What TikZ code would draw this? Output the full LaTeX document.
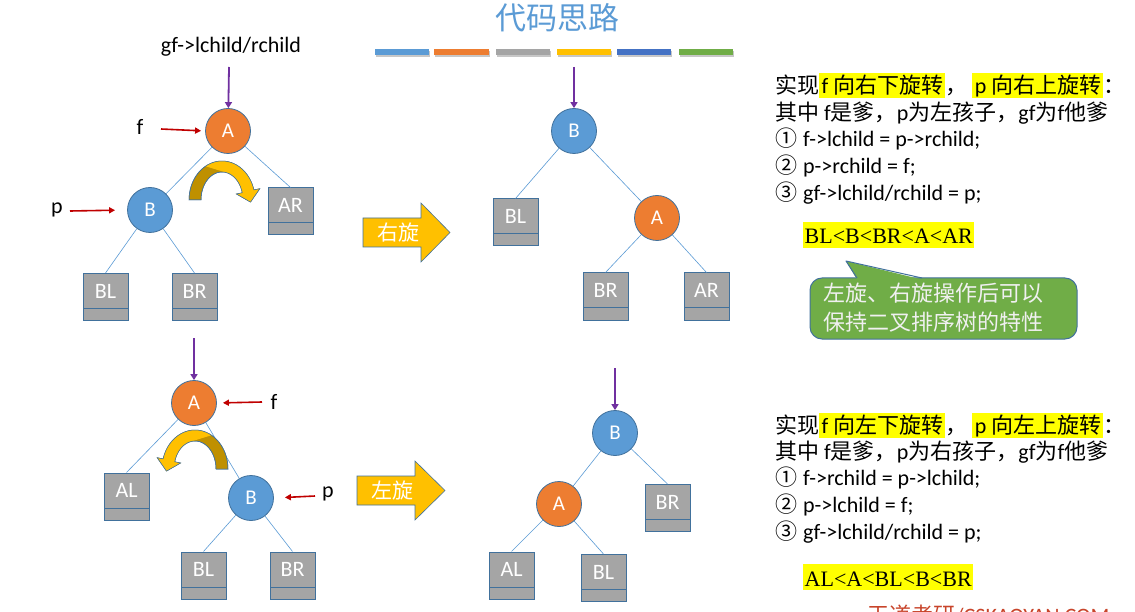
\documentclass[tikz,border=0pt]{standalone}
\usepackage{fontspec}
\setmainfont{Carlito}
\newfontfamily\cjk{Noto Sans CJK SC}
\newfontfamily\tnr{Liberation Serif}
\newcommand{\zh}[1]{{\cjk #1}}
\usetikzlibrary{arrows.meta}
\definecolor{nblue}{HTML}{5B9BD5}
\definecolor{norange}{HTML}{ED7D31}
\definecolor{ngray}{HTML}{A5A5A5}
\definecolor{nyellow}{HTML}{FFC000}
\definecolor{ndblue}{HTML}{4472C4}
\definecolor{ngreen}{HTML}{70AD47}
\definecolor{nborder}{HTML}{41719C}
\definecolor{npurple}{HTML}{7030A0}
\definecolor{nred}{HTML}{C00000}
\definecolor{ngold}{HTML}{BF9000}
\definecolor{hl}{HTML}{FFFF00}
\definecolor{wmred}{HTML}{C8442A}
\newcommand{\hlt}[1]{{\setlength{\fboxsep}{0pt}\colorbox{hl}{\rule[-4.6pt]{0pt}{25pt}\hspace{2.5pt}#1\hspace{2pt}}}}
\newcommand{\hltb}[1]{{\setlength{\fboxsep}{0pt}\colorbox{hl}{\rule[-4pt]{0pt}{26pt}\hspace{1.5pt}#1\hspace{1pt}}}}
\tikzset{
 tn/.style={circle, minimum size=45pt, inner sep=0pt, draw=nborder, line width=0.8pt, text=white, font=\fontsize{21}{24}\selectfont},
 tA/.style={tn, fill=norange},
 tB/.style={tn, fill=nblue},
 leaf/.style={rectangle, minimum width=45pt, minimum height=47pt, inner sep=0pt, fill=ngray, draw=nborder, line width=1pt, text=white, font=\fontsize{22}{24}\selectfont, text depth=12pt,
   path picture={\draw[nborder, line width=1pt] ([yshift=12pt]path picture bounding box.south west) -- ([yshift=12pt]path picture bounding box.south east);}},
 edge/.style={nblue, line width=0.6pt},
 gfarrow/.style={npurple, line width=1.8pt, -{Triangle[length=6pt,width=7pt]}},
 ptr/.style={nred, line width=1.6pt, -{Triangle[length=6pt,width=6pt]}},
 lbl/.style={font=\fontsize{22}{24}\selectfont, inner sep=0pt},
 txt/.style={anchor=base west, inner sep=0pt, font=\fontsize{22}{26}\selectfont},
 ord/.style={anchor=base west, inner sep=0pt, font=\tnr\fontsize{22}{24}\selectfont},
 blockarrow/.style={fill=nyellow, draw=nborder, line width=0.6pt},
 blocktext/.style={font=\cjk\fontsize{21}{24}\selectfont, text=white, inner sep=0pt},
}
\begin{document}
\begin{tikzpicture}[x=1pt, y=-1pt]
\fill[white] (0,0) rectangle (1135,612);
\useasboundingbox (0,0) rectangle (1135,612);

% title and colour bars
\node[font=\cjk\fontsize{31}{34}\selectfont, text=nblue, inner sep=0pt] (title) at (557,18) {代码思路};
\foreach \a/\b/\c in {375/429/nblue, 434/489/norange, 496/550/ngray, 557/611/nyellow, 617/671/ndblue, 679/733/ngreen}{
  \fill[black!22] (\a+1,51) rectangle (\b+1,57);
  \fill[\c] (\a,49) rectangle (\b,55);
}

% ---------- top-left tree ----------
\node[lbl] (gf1) at (231,47) {gf->lchild/rchild};
\coordinate (g1) at (229,67);
\node[tA] (A1) at (228,131) {A};
\node[tB] (B1) at (150,210) {B};
\node[leaf] (AR1) at (290.5,211.5) {AR};
\node[leaf] (BL1) at (105.5,297) {BL};
\node[leaf] (BR1) at (194.5,297) {BR};
\draw[edge] (A1) -- (B1);
\draw[edge] (A1) -- (AR1.north);
\draw[edge] (B1) -- (BL1.north);
\draw[edge] (B1) -- (BR1.north);
\draw[gfarrow] (g1) -- (A1);
\node[lbl] (f1) at (140,127) {f};
\coordinate (f1s) at (161,129);
\draw[ptr, shorten >=4pt] (f1s) -- (A1.west);
\node[lbl] (p1) at (57,210) {p};
\coordinate (p1s) at (70,211);
\draw[ptr, shorten >=12pt] (p1s) -- (B1.west);
\begin{scope}[shift={(222,200)}]
 \filldraw[fill=ngold, draw=nborder, line width=0.5pt] plot[domain=180:345, samples=40] ({33*cos(\x)},{39*sin(\x)}) -- (37.8,-11.3) -- (28.5,2.1) -- (14.4,-6.0) -- plot[domain=345:180, samples=40] ({21*cos(\x)},{28*sin(\x)}) -- cycle;
 \fill[nyellow] plot[domain=240:345, samples=30] ({33*cos(\x)},{39*sin(\x)}) -- (37.8,-11.3) -- (28.5,2.1) -- (14.4,-6.0) -- plot[domain=345:285, samples=20] ({21*cos(\x)},{28*sin(\x)}) -- cycle;
 \draw[nborder, line width=0.5pt] plot[domain=180:345, samples=40] ({33*cos(\x)},{39*sin(\x)}) -- (37.8,-11.3) -- (28.5,2.1) -- (14.4,-6.0) -- plot[domain=345:180, samples=40] ({21*cos(\x)},{28*sin(\x)}) -- cycle;
\end{scope}

% right-rotation block arrow
\filldraw[blockarrow] (363,218) -- (421,218) -- (421,203) -- (450,232.5) -- (421,262) -- (421,247) -- (363,247) -- cycle;
\node[blocktext] (r1) at (398,233) {右旋};

% ---------- top-middle tree ----------
\coordinate (g2) at (574,67);
\node[tB] (B2) at (574,131) {B};
\node[leaf] (BL2) at (515.5,222.5) {BL};
\node[tA] (A2) at (657,218) {A};
\node[leaf] (BR2) at (605.5,296.5) {BR};
\node[leaf] (AR2) at (706.5,296.5) {AR};
\draw[edge] (B2) -- (BL2.north);
\draw[edge] (B2) -- (A2);
\draw[edge] (A2) -- (BR2.north);
\draw[edge] (A2) -- (AR2.north);
\draw[gfarrow] (g2) -- (B2);

% ---------- bottom-left tree ----------
\coordinate (g3) at (194,338);
\node[tA] (A3) at (194,403) {A};
\node[leaf] (AL3) at (126.5,496.5) {AL};
\node[tB] (B3) at (251,498) {B};
\node[leaf] (BL3) at (203.5,575.5) {BL};
\node[leaf] (BR3) at (292.5,575.5) {BR};
\draw[edge] (A3) -- (AL3.north);
\draw[edge] (A3) -- (B3);
\draw[edge] (B3) -- (BL3.north);
\draw[edge] (B3) -- (BR3.north);
\draw[gfarrow] (g3) -- (A3);
\node[lbl] (f3) at (274,402) {f};
\coordinate (f3s) at (262,402);
\draw[ptr, shorten >=6pt] (f3s) -- (A3.east);
\node[lbl] (p3) at (328,494) {p};
\coordinate (p3s) at (315,496);
\draw[ptr, shorten >=11pt] (p3s) -- (B3.east);
\begin{scope}[shift={(195,469)}, xscale=-1]
 \filldraw[fill=ngold, draw=nborder, line width=0.5pt] plot[domain=180:345, samples=40] ({33*cos(\x)},{39*sin(\x)}) -- (37.8,-11.3) -- (28.5,2.1) -- (14.4,-6.0) -- plot[domain=345:180, samples=40] ({21*cos(\x)},{28*sin(\x)}) -- cycle;
 \fill[nyellow] plot[domain=240:345, samples=30] ({33*cos(\x)},{39*sin(\x)}) -- (37.8,-11.3) -- (28.5,2.1) -- (14.4,-6.0) -- plot[domain=345:285, samples=20] ({21*cos(\x)},{28*sin(\x)}) -- cycle;
 \draw[nborder, line width=0.5pt] plot[domain=180:345, samples=40] ({33*cos(\x)},{39*sin(\x)}) -- (37.8,-11.3) -- (28.5,2.1) -- (14.4,-6.0) -- plot[domain=345:180, samples=40] ({21*cos(\x)},{28*sin(\x)}) -- cycle;
\end{scope}

% left-rotation block arrow
\filldraw[blockarrow] (357,476) -- (415,476) -- (415,461) -- (445,490.5) -- (415,520) -- (415,505) -- (357,505) -- cycle;
\node[blocktext] (l1) at (392,491) {左旋};

% ---------- bottom-middle tree ----------
\coordinate (g4) at (615,368);
\node[tB] (B4) at (615,433) {B};
\node[tA] (A4) at (559,504) {A};
\node[leaf] (BR4) at (667.5,508) {BR};
\node[leaf] (AL4) at (511.5,575.5) {AL};
\node[leaf] (BL4) at (603.5,578) {BL};
\draw[edge] (B4) -- (A4);
\draw[edge] (B4) -- (BR4.north);
\draw[edge] (A4) -- (AL4.north);
\draw[edge] (A4) -- (BL4.north);
\draw[gfarrow] (g4) -- (B4);

% ---------- right texts (top) ----------
\node[txt] (t1) at (775,93.4) {\zh{实现}\hlt{f \zh{向右下旋转}}\zh{，}\hspace{5pt}\hlt{p \zh{向右上旋转}}\zh{：}};
\node[txt] (t2) at (775,120.4) {\zh{其中} f\zh{是爹，}p\zh{为左孩子，}gf\zh{为}f\zh{他爹}};
\node[txt] (t3) at (775,146.5) {\zh{①}\hspace{1pt} f->lchild = p->rchild;};
\node[txt] (t4) at (775,173.5) {\zh{②}\hspace{1pt} p->rchild = f;};
\node[txt] (t5) at (775,201) {\zh{③}\hspace{1pt} gf->lchild/rchild = p;};
\node[ord] (o1) at (803,244) {\hltb{BL<B<BR<A<AR}};

% callout
\filldraw[fill=ngreen, draw=nborder, line width=1pt, rounded corners=12pt] (810,278) rectangle (1077,339);
\fill[ngreen] (857,279.6) -- (846,261) -- (922,279.6) -- cycle;
\draw[nborder, line width=1pt, line join=round] (857,278) -- (846,261) -- (922,278);
\node[anchor=west, align=left, text=white!94!black, font=\cjk\fontsize{22}{29}\selectfont, inner sep=0pt] (co) at (823,307.5) {左旋、右旋操作后可以\\保持二叉排序树的特性};

% ---------- right texts (bottom) ----------
\node[txt] (u1) at (775,433) {\zh{实现}\hlt{f \zh{向左下旋转}}\zh{，}\hspace{5pt}\hlt{p \zh{向左上旋转}}\zh{：}};
\node[txt] (u2) at (775,459.5) {\zh{其中} f\zh{是爹，}p\zh{为右孩子，}gf\zh{为}f\zh{他爹}};
\node[txt] (u3) at (775,485.5) {\zh{①}\hspace{1pt} f->rchild = p->lchild;};
\node[txt] (u4) at (775,512.5) {\zh{②}\hspace{1pt} p->lchild = f;};
\node[txt] (u5) at (775,539.5) {\zh{③}\hspace{1pt} gf->lchild/rchild = p;};
\node[ord] (o2) at (803,586) {\hltb{AL<A<BL<B<BR}};

% watermark (cut at the lower edge, as in the reference)
\node[anchor=base west, text=wmred, font=\fontsize{22}{24}\selectfont, inner sep=0pt] (wm) at (867,623) {\zh{王道考研}/CSKAOYAN.COM};
\end{tikzpicture}
\end{document}
